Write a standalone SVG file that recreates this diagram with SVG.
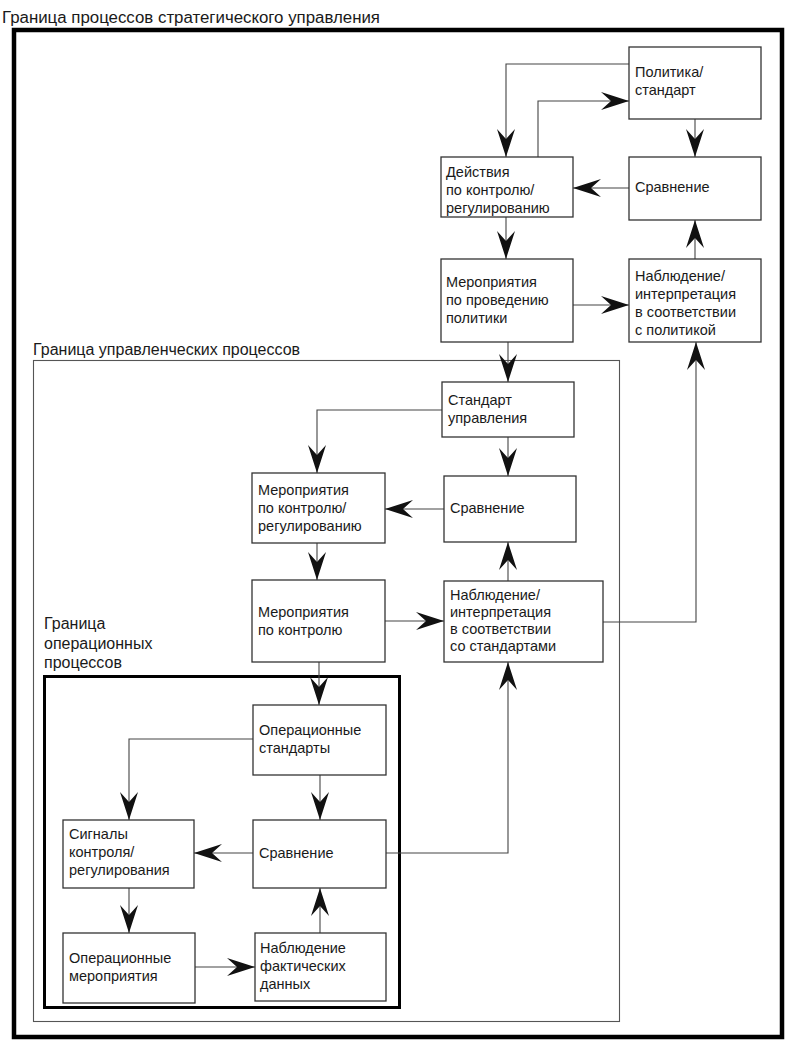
<svg xmlns="http://www.w3.org/2000/svg" width="789" height="1049" viewBox="0 0 789 1049">
<defs>
<marker id="ah" markerUnits="userSpaceOnUse" markerWidth="32" markerHeight="24" viewBox="-30 -12 32 24" refX="0" refY="0" orient="auto">
<path d="M0,0 L-28,-9 L-18,0 L-28,9 Z" fill="#111"/>
</marker>
</defs>
<style>
.box{fill:#fff;stroke:#333;stroke-width:1.3}
.t{font-family:"Liberation Sans",Arial,sans-serif;font-size:14.5px;fill:#1a1a1a}
.lbl{font-family:"Liberation Sans",Arial,sans-serif;font-size:16px;fill:#1a1a1a}
.c{fill:none;stroke:#444;stroke-width:1.1;marker-end:url(#ah)}
</style>
<rect width="789" height="1049" fill="#fff"/>

<g id="frame-strategic">
<rect x="14" y="30" width="768" height="1007" fill="none" stroke="#000" stroke-width="4.5"/>
<text x="2" y="23" class="lbl" font-size="16.5" textLength="378" lengthAdjust="spacingAndGlyphs">Граница процессов стратегического управления</text>
</g>
<g id="frame-management">
<rect x="33.5" y="360.5" width="586" height="661" fill="none" stroke="#555" stroke-width="1.1"/>
<text x="33" y="355" class="lbl">Граница управленческих процессов</text>
</g>
<g id="frame-operational">
<rect x="44.5" y="676.5" width="355" height="331" fill="none" stroke="#000" stroke-width="3"/>
<text class="lbl"><tspan x="44" y="629">Граница</tspan><tspan x="44" y="649">операционных</tspan><tspan x="44" y="668">процессов</tspan></text>
</g>

<g id="connectors">
<path class="c" d="M629,64 H506 V157"/>
<path class="c" d="M538,157 V101 H629"/>
<path class="c" d="M695,119 V157"/>
<path class="c" d="M629,188 H573"/>
<path class="c" d="M695,259 V220"/>
<path class="c" d="M506,217 V259"/>
<path class="c" d="M573,305 H629"/>
<path class="c" d="M508,342 V382"/>
<path class="c" d="M442,410 H317 V473"/>
<path class="c" d="M508,437 V476"/>
<path class="c" d="M444,509 H385"/>
<path class="c" d="M317,543 V580"/>
<path class="c" d="M385,621 H444"/>
<path class="c" d="M508,581 V542"/>
<path class="c" d="M603,622 H696 V342"/>
<path class="c" d="M319,662 V705"/>
<path class="c" d="M253,739 H129 V820"/>
<path class="c" d="M320,775 V820"/>
<path class="c" d="M253,853 H194"/>
<path class="c" d="M129,888 V933"/>
<path class="c" d="M195,967 H255"/>
<path class="c" d="M320,933 V888"/>
<path class="c" d="M386,853 H508 V662"/>
</g>

<g id="n-policy"><rect class="box" x="629" y="47" width="132" height="72"/><text class="t"><tspan x="635" y="77">Политика/</tspan><tspan x="635" y="95">стандарт</tspan></text></g>
<g id="n-compare1"><rect class="box" x="629" y="157" width="132" height="63"/><text class="t" x="635" y="192">Сравнение</text></g>
<g id="n-observe1"><rect class="box" x="629" y="259" width="132" height="83"/><text class="t"><tspan x="635" y="281">Наблюдение/</tspan><tspan x="635" y="299">интерпретация</tspan><tspan x="635" y="317">в соответствии</tspan><tspan x="635" y="335">с политикой</tspan></text></g>
<g id="n-actions1"><rect class="box" x="441" y="157" width="132" height="60"/><text class="t"><tspan x="446" y="177">Действия</tspan><tspan x="446" y="195">по контролю/</tspan><tspan x="446" y="213">регулированию</tspan></text></g>
<g id="n-measures1"><rect class="box" x="441" y="259" width="132" height="83"/><text class="t"><tspan x="446" y="287">Мероприятия</tspan><tspan x="446" y="305">по проведению</tspan><tspan x="446" y="323">политики</tspan></text></g>

<g id="n-standard2"><rect class="box" x="442" y="382" width="132" height="55"/><text class="t"><tspan x="448" y="405">Стандарт</tspan><tspan x="448" y="423">управления</tspan></text></g>
<g id="n-compare2"><rect class="box" x="444" y="476" width="132" height="66"/><text class="t" x="450" y="513">Сравнение</text></g>
<g id="n-actions2"><rect class="box" x="252" y="473" width="133" height="70"/><text class="t"><tspan x="258" y="495">Мероприятия</tspan><tspan x="258" y="513">по контролю/</tspan><tspan x="258" y="531">регулированию</tspan></text></g>
<g id="n-control2"><rect class="box" x="252" y="580" width="133" height="82"/><text class="t"><tspan x="258" y="617">Мероприятия</tspan><tspan x="258" y="635">по контролю</tspan></text></g>
<g id="n-observe2"><rect class="box" x="444" y="581" width="159" height="81"/><text class="t"><tspan x="450" y="600">Наблюдение/</tspan><tspan x="450" y="617">интерпретация</tspan><tspan x="450" y="634">в соответствии</tspan><tspan x="450" y="651">со стандартами</tspan></text></g>

<g id="n-opstd"><rect class="box" x="253" y="705" width="133" height="70"/><text class="t"><tspan x="259" y="735">Операционные</tspan><tspan x="259" y="753">стандарты</tspan></text></g>
<g id="n-signals"><rect class="box" x="63" y="820" width="131" height="68"/><text class="t"><tspan x="69" y="839">Сигналы</tspan><tspan x="69" y="857">контроля/</tspan><tspan x="69" y="875">регулирования</tspan></text></g>
<g id="n-compare3"><rect class="box" x="253" y="820" width="133" height="68"/><text class="t" x="259" y="858">Сравнение</text></g>
<g id="n-opmeasures"><rect class="box" x="63" y="933" width="132" height="70"/><text class="t"><tspan x="69" y="963">Операционные</tspan><tspan x="69" y="981">мероприятия</tspan></text></g>
<g id="n-observe3"><rect class="box" x="255" y="933" width="131" height="68"/><text class="t"><tspan x="260" y="953">Наблюдение</tspan><tspan x="260" y="971">фактических</tspan><tspan x="260" y="989">данных</tspan></text></g>
</svg>
